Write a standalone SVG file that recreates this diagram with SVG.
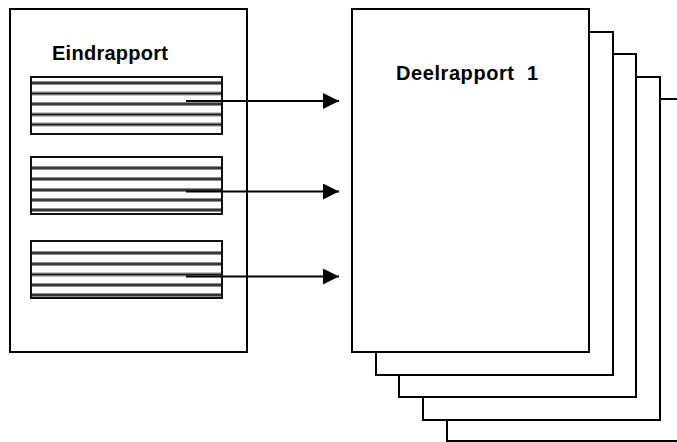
<svg xmlns="http://www.w3.org/2000/svg" width="677" height="442" viewBox="0 0 677 442">
<defs>
<style>
.page{fill:#fff;stroke:#000;stroke-width:2}
.box{fill:#fff;stroke:#111;stroke-width:2}
.band{stroke:#8c8c8c;stroke-width:4}
.line{stroke:#1a1a1a;stroke-width:1.6}
.lbl{font-family:"Liberation Sans",Arial,sans-serif;font-weight:bold;font-size:20px;fill:#000}
.conn{stroke:#000;stroke-width:2;fill:none}
</style>
<marker id="ah" markerUnits="userSpaceOnUse" markerWidth="17" markerHeight="16" refX="16" refY="8" orient="auto">
<path d="M0,0 L16,8 L0,16 Z" fill="#000"/>
</marker>
</defs>
<g id="deelrapport-stack">
<rect class="page" x="447" y="99" width="237" height="342"/>
<rect class="page" x="423" y="77" width="237" height="343"/>
<rect class="page" x="399" y="54" width="237" height="343"/>
<rect class="page" x="376" y="32" width="237" height="343"/>
</g>
<g id="deelrapport1">
<rect class="page" x="352" y="9" width="237" height="343"/>
<text class="lbl" x="396" y="80" textLength="142" lengthAdjust="spacing" xml:space="preserve">Deelrapport  1</text>
</g>
<g id="eindrapport">
<rect class="page" x="10" y="9" width="237" height="343"/>
<text class="lbl" x="52" y="60" textLength="116" lengthAdjust="spacing">Eindrapport</text>
</g>
<g id="section1">
<rect class="box" x="31" y="77" width="191" height="57"/>
<g>
<line class="band" x1="32" x2="221" y1="83" y2="83"/><line class="line" x1="32" x2="221" y1="83" y2="83"/>
<line class="band" x1="32" x2="221" y1="93.5" y2="93.5"/><line class="line" x1="32" x2="221" y1="93.5" y2="93.5"/>
<line class="band" x1="32" x2="221" y1="104" y2="104"/><line class="line" x1="32" x2="221" y1="104" y2="104"/>
<line class="band" x1="32" x2="221" y1="114.5" y2="114.5"/><line class="line" x1="32" x2="221" y1="114.5" y2="114.5"/>
<line class="band" x1="32" x2="221" y1="124.5" y2="124.5"/><line class="line" x1="32" x2="221" y1="124.5" y2="124.5"/>
</g>
</g>
<g id="section2">
<rect class="box" x="31" y="157" width="191" height="57"/>
<g>
<line class="band" x1="32" x2="221" y1="168" y2="168"/><line class="line" x1="32" x2="221" y1="168" y2="168"/>
<line class="band" x1="32" x2="221" y1="179" y2="179"/><line class="line" x1="32" x2="221" y1="179" y2="179"/>
<line class="band" x1="32" x2="221" y1="190" y2="190"/><line class="line" x1="32" x2="221" y1="190" y2="190"/>
<line class="band" x1="32" x2="221" y1="200" y2="200"/><line class="line" x1="32" x2="221" y1="200" y2="200"/>
<line class="band" x1="32" x2="221" y1="210" y2="210"/><line class="line" x1="32" x2="221" y1="210" y2="210"/>
</g>
</g>
<g id="section3">
<rect class="box" x="31" y="241" width="191" height="57"/>
<g>
<line class="band" x1="32" x2="221" y1="253" y2="253"/><line class="line" x1="32" x2="221" y1="253" y2="253"/>
<line class="band" x1="32" x2="221" y1="264" y2="264"/><line class="line" x1="32" x2="221" y1="264" y2="264"/>
<line class="band" x1="32" x2="221" y1="274.5" y2="274.5"/><line class="line" x1="32" x2="221" y1="274.5" y2="274.5"/>
<line class="band" x1="32" x2="221" y1="285" y2="285"/><line class="line" x1="32" x2="221" y1="285" y2="285"/>
<line class="band" x1="32" x2="221" y1="295" y2="295"/><line class="line" x1="32" x2="221" y1="295" y2="295"/>
</g>
</g>
<g id="connectors">
<line class="conn" x1="186" y1="101" x2="339" y2="101" marker-end="url(#ah)"/>
<line class="conn" x1="186" y1="191.5" x2="339" y2="191.5" marker-end="url(#ah)"/>
<line class="conn" x1="186" y1="276.5" x2="339" y2="276.5" marker-end="url(#ah)"/>
</g>
</svg>
